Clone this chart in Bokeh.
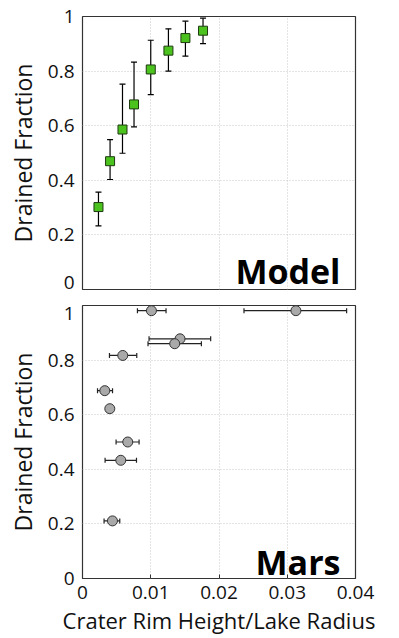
from bokeh.plotting import figure
from bokeh.layouts import column
from bokeh.models import ColumnDataSource, Whisker, TeeHead, Label, FixedTicker
from bokeh.embed import file_html
from bokeh.resources import INLINE

# Model data
model_x = [0.00234, 0.00404, 0.00586, 0.00755, 0.0100, 0.01259, 0.01508, 0.01766]
model_y = [0.302, 0.470, 0.586, 0.678, 0.806, 0.875, 0.921, 0.948]
model_lo = [0.233, 0.403, 0.499, 0.596, 0.714, 0.800, 0.855, 0.901]
model_hi = [0.357, 0.549, 0.752, 0.833, 0.913, 0.955, 0.983, 0.994]

# Mars data
mars_x = [0.0101, 0.03127, 0.01429, 0.01351, 0.0059, 0.00327, 0.0040, 0.00663, 0.00561, 0.00439]
mars_y = [0.981, 0.981, 0.878, 0.860, 0.817, 0.688, 0.622, 0.500, 0.433, 0.211]
mars_lo = [0.00805, 0.02366, 0.00975, 0.0096, 0.00395, 0.0022, 0.0040, 0.00492, 0.00331, 0.00316]
mars_hi = [0.01224, 0.0387, 0.01878, 0.01742, 0.00795, 0.0044, 0.0040, 0.00829, 0.00791, 0.00546]

x_ticks = [0, 0.01, 0.02, 0.03, 0.04]
y_ticks = [0, 0.2, 0.4, 0.6, 0.8, 1]
x_tick_labels = ["0", "0.01", "0.02", "0.03", "0.04"]
y_tick_labels = ["0", "0.2", "0.4", "0.6", "0.8", "1"]
# label anchor positions (the edge labels sit just inside the frame, as in the reference)
model_label_pos = [0.025, 0.2, 0.4, 0.6, 0.8, 1]
mars_label_pos = [0, 0.2, 0.4, 0.6, 0.8, 0.972]

FONT = "Open Sans"
TICK_SIZE = "19px"
TICK_COLOR = "#111111"


def style(p, show_x_labels, label_pos):
    p.outline_line_color = "#333333"
    p.outline_line_width = 1.2
    p.background_fill_color = "white"
    p.border_fill_color = "white"
    p.xaxis.ticker = FixedTicker(ticks=x_ticks)
    p.xaxis.major_label_overrides = dict(zip(x_ticks, x_tick_labels))
    p.yaxis.ticker = FixedTicker(ticks=label_pos)
    p.yaxis.major_label_overrides = dict(zip(label_pos, y_tick_labels))
    p.xgrid[0].ticker = FixedTicker(ticks=x_ticks)
    p.ygrid[0].ticker = FixedTicker(ticks=y_ticks)
    for g in (p.xgrid[0], p.ygrid[0]):
        g.grid_line_color = "#c8c8c8"
        g.grid_line_dash = "1 2"
        g.grid_line_width = 1
    for ax in (p.xaxis[0], p.yaxis[0]):
        ax.axis_line_color = None
        ax.major_tick_in = 4
        ax.major_tick_out = 0
        ax.major_tick_line_color = "#333333"
        ax.minor_tick_line_color = None
        ax.major_label_text_font = FONT
        ax.major_label_text_font_size = TICK_SIZE
        ax.major_label_text_color = TICK_COLOR
        ax.axis_label_text_font = FONT
        ax.axis_label_text_font_style = "normal"
        ax.axis_label_text_color = "#111111"
    p.yaxis.major_tick_line_color = None
    p.yaxis.major_label_standoff = 8
    p.yaxis.axis_label = "Drained Fraction"
    p.yaxis.axis_label_text_font_size = "23px"
    p.yaxis.axis_label_standoff = 6
    if show_x_labels:
        p.xaxis.major_label_standoff = 7
        p.xaxis.axis_label = "Crater Rim Height/Lake Radius"
        p.xaxis.axis_label_text_font_size = "22px"
        p.xaxis.axis_label_standoff = 3
    else:
        p.xaxis.visible = False


# Top panel (Model)
p1 = figure(frame_width=273, frame_height=273, x_range=(0, 0.04), y_range=(0, 1),
            output_backend="svg", toolbar_location=None,
            min_border_left=82, min_border_top=16, min_border_bottom=8, min_border_right=40)
style(p1, False, model_label_pos)
src1 = ColumnDataSource(dict(x=model_x, y=model_y, lo=model_lo, hi=model_hi))
w1 = Whisker(source=src1, base="x", lower="lo", upper="hi", dimension="height",
             line_color="black", line_width=1.2,
             upper_head=TeeHead(size=6, line_color="black", line_width=1.2),
             lower_head=TeeHead(size=6, line_color="black", line_width=1.2))
p1.add_layout(w1)
p1.scatter("x", "y", source=src1, marker="square", size=9,
           fill_color="#4cc21f", line_color="#1e3a10", line_width=1)
p1.add_layout(Label(x=0.0378, y=0.068, text="Model", text_align="right",
                    text_baseline="alphabetic", text_font=FONT, text_font_style="bold",
                    text_font_size="34px", text_color="black"))

# Bottom panel (Mars)
p2 = figure(frame_width=273, frame_height=273, x_range=(0, 0.04), y_range=(0, 1),
            output_backend="svg", toolbar_location=None,
            min_border_left=82, min_border_top=8, min_border_bottom=8, min_border_right=40)
style(p2, True, mars_label_pos)
src2 = ColumnDataSource(dict(x=mars_x, y=mars_y, lo=mars_lo, hi=mars_hi))
w2 = Whisker(source=src2, base="y", lower="lo", upper="hi", dimension="width",
             line_color="#222222", line_width=1.2,
             upper_head=TeeHead(size=5, line_color="#222222", line_width=1.2),
             lower_head=TeeHead(size=5, line_color="#222222", line_width=1.2))
p2.add_layout(w2)
p2.scatter("x", "y", source=src2, marker="circle", size=10,
           fill_color="#a9a9a9", line_color="#333333", line_width=1)
p2.add_layout(Label(x=0.0378, y=0.062, text="Mars", text_align="right",
                    text_baseline="alphabetic", text_font=FONT, text_font_style="bold",
                    text_font_size="34px", text_color="black"))

layout = column(p1, p2, spacing=0)
open("out.html", "w").write(file_html(layout, INLINE))
